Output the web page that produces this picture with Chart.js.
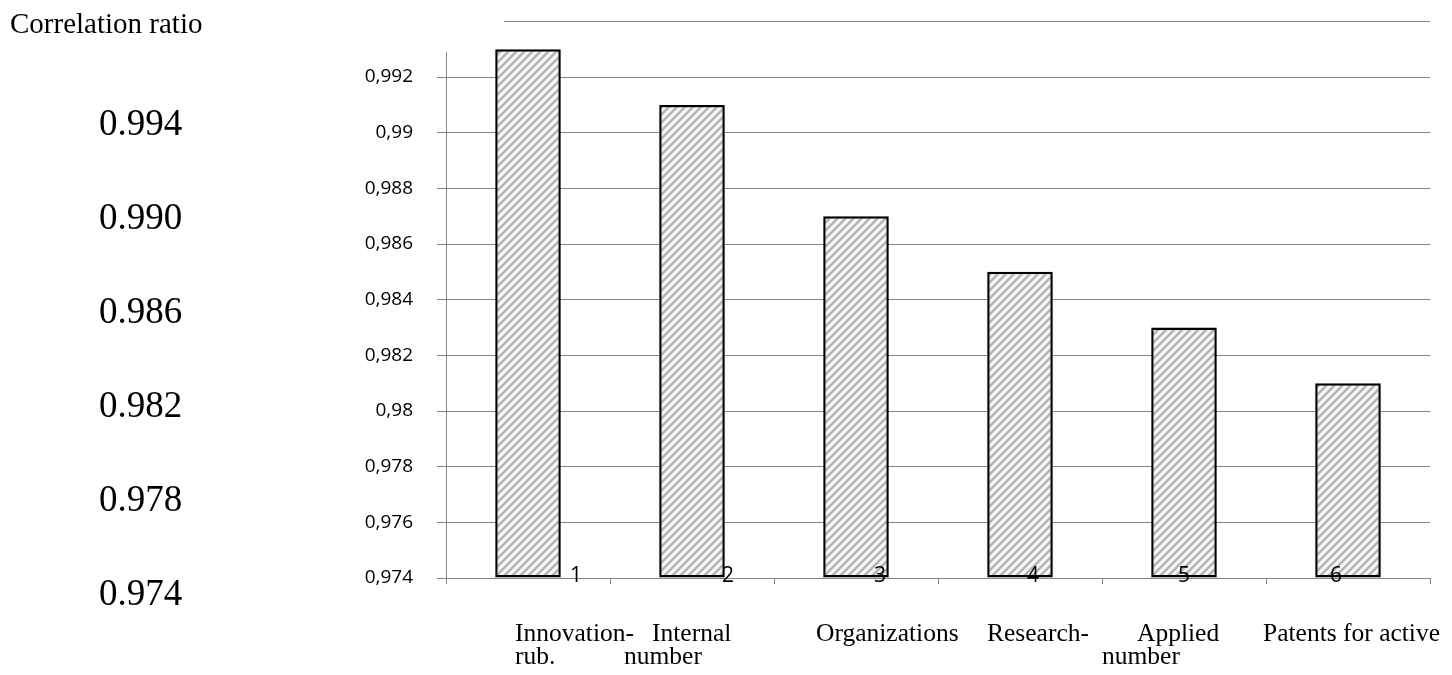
<!DOCTYPE html>
<html>
<head>
<meta charset="utf-8">
<script src="https://cdn.jsdelivr.net/npm/chart.js@4.4.1/dist/chart.umd.min.js"></script>
<style>
  body { margin: 0; background: #fff; }
  #wrap { width: 1452px; height: 675px; position: relative; }
</style>
</head>
<body>
<div id="wrap"><canvas id="chart"></canvas></div>
<script>
const categoryNumbers = ['1', '2', '3', '4', '5', '6'];
const categoryNames = [['Innovation-', 'rub.'], ['Internal', 'number'], ['Organizations'], ['Research-'], ['Applied', 'number'], ['Patents for active']];
const correlationValues = [0.993, 0.991, 0.987, 0.985, 0.983, 0.981];
const yTickValues = [0.974, 0.976, 0.978, 0.98, 0.982, 0.984, 0.986, 0.988, 0.99, 0.992];
const sideLabels = ['0.994', '0.990', '0.986', '0.982', '0.978', '0.974'];
const sideTitle = 'Correlation ratio';

// where the words under each bar start, relative to the category centre
const nameOffsets = [[-13, -13], [-40, -68], [-40], [-33], [-47, -82], [-85]];
const numberOffsets = [48, 36, 24, 13, 0, -12];

function hatch() {
    const c = document.createElement('canvas');
    c.width = c.height = 8;
    const g = c.getContext('2d');
    g.fillStyle = '#f7f7f7';
    g.fillRect(0, 0, 8, 8);
    g.strokeStyle = '#b2b2b2';
    g.lineWidth = 2.4;
    g.beginPath();
    g.moveTo(-2, 10); g.lineTo(10, -2);
    g.moveTo(-2, 2); g.lineTo(2, -2);
    g.moveTo(6, 10); g.lineTo(10, 6);
    g.stroke();
    return g.createPattern(c, 'repeat');
}

const annotate = {
    id: 'annotate',
    afterDatasetsDraw(chart) {
        const ctx = chart.ctx, x = chart.scales.x, y = chart.scales.y;
        ctx.save();
        ctx.font = '21px "Open Sans"';
        ctx.fillStyle = '#000';
        ctx.textAlign = 'center';
        ctx.textBaseline = 'middle';
        categoryNumbers.forEach((n, i) => {
            ctx.fillText(n, x.getPixelForValue(i) + numberOffsets[i], y.getPixelForValue(0.974) - 2);
        });
        ctx.restore();
    },
    afterDraw(chart) {
        const ctx = chart.ctx, x = chart.scales.x, y = chart.scales.y;
        ctx.save();
        // top line at 0.994
        const yt = Math.round(y.getPixelForValue(0.994)) + 0.5;
        ctx.strokeStyle = '#858585';
        ctx.lineWidth = 1;
        ctx.beginPath();
        ctx.moveTo(chart.chartArea.left + 58, yt);
        ctx.lineTo(chart.chartArea.right, yt);
        ctx.stroke();

        ctx.fillStyle = '#000';
        ctx.textBaseline = 'alphabetic';
        ctx.textAlign = 'left';
        ctx.font = '29px "Liberation Serif"';
        ctx.fillText(sideTitle, 10, 33);
        ctx.font = '37px "Liberation Serif"';
        sideLabels.forEach((s, i) => ctx.fillText(s, 99, 135 + i * 94));

        ctx.font = '25.5px "Liberation Serif"';
        categoryNames.forEach((lines, i) => {
            const cx = x.getPixelForValue(i);
            lines.forEach((t, j) => ctx.fillText(t, cx + nameOffsets[i][j], 641 + j * 23));
        });
        ctx.restore();
    }
};

new Chart(document.getElementById('chart'), {
    type: 'bar',
    data: {
        labels: categoryNumbers,
        datasets: [{
            data: correlationValues,
            base: 0.974,
            backgroundColor: hatch(),
            borderColor: '#000',
            borderWidth: 2.5,
            borderSkipped: false,
            barPercentage: 0.4,
            categoryPercentage: 1,
            clip: false
        }]
    },
    options: {
        responsive: true,
        maintainAspectRatio: false,
        animation: false,
        layout: { padding: { top: 52, right: 22, left: 0, bottom: 0 } },
        plugins: { legend: { display: false }, tooltip: { enabled: false } },
        scales: {
            x: {
                afterFit(scale) { scale.height = 97; },
                grid: { offset: true, drawOnChartArea: false, drawTicks: true, tickLength: 6, color: '#858585' },
                border: { color: '#858585' },
                ticks: { display: false }
            },
            y: {
                min: 0.974,
                max: 0.9929,
                afterFit(scale) { scale.width = 446; },
                afterBuildTicks(scale) { scale.ticks = yTickValues.map(v => ({ value: v })); },
                grid: { color: '#858585', tickLength: 9 },
                border: { color: '#858585' },
                ticks: {
                    padding: 24,
                    color: '#000',
                    font: { family: 'Open Sans', size: 19 },
                    callback: v => String(+v.toFixed(3)).replace('.', ',')
                }
            }
        }
    },
    plugins: [annotate]
});
</script>
</body>
</html>
